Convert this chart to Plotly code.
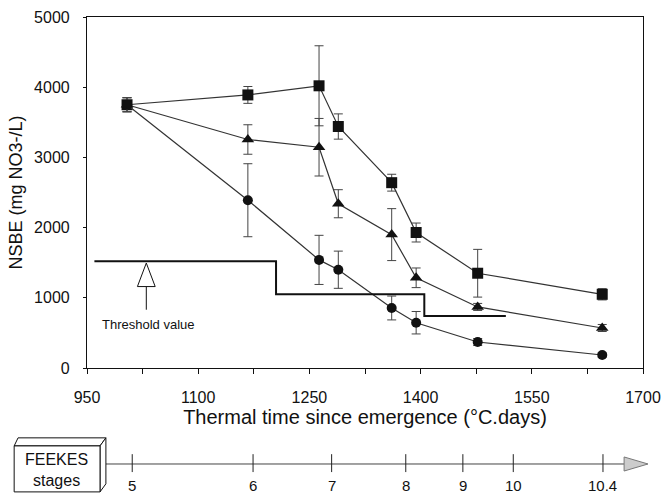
import plotly.graph_objects as go

# ---- data ----
thermal_time = [1004, 1167, 1263, 1289, 1361, 1394, 1477, 1645]
nsbe_square = [3750, 3890, 4020, 3440, 2640, 1930, 1350, 1050]
err_square = [100, 120, 570, 180, 120, 135, 340, 80]
nsbe_triangle = [3750, 3255, 3145, 2340, 1900, 1285, 870, 570]
err_triangle = [100, 210, 410, 200, 370, 140, 50, 50]
nsbe_circle = [3750, 2390, 1540, 1400, 855, 645, 370, 185]
err_circle = [100, 520, 350, 265, 170, 160, 50, 30]

threshold_tt = [960, 1205, 1405, 1515]
threshold_val = [1520, 1050, 740, 740]

feekes_labels = ["5", "6", "7", "8", "9", "10", "10.4"]
feekes_tt = [1011, 1174, 1280, 1380, 1457, 1525, 1646]

x_ticks = [950, 1100, 1250, 1400, 1550, 1700]
y_ticks = [0, 1000, 2000, 3000, 4000, 5000]

FONT = "Arial, Liberation Sans, sans-serif"
INK = "#111111"

fig = go.Figure()

def add_series(y, err, symbol, size):
    fig.add_trace(go.Scatter(
        x=thermal_time, y=y, mode="lines+markers",
        line=dict(color="#333333", width=1.2),
        marker=dict(symbol=symbol, size=size, color=INK),
        error_y=dict(type="data", array=err, visible=True,
                     color="#444444", thickness=1, width=4.5),
        showlegend=False, hoverinfo="skip"))

add_series(nsbe_square, err_square, "square", 11)
add_series(nsbe_triangle, err_triangle, "triangle-up", 11)
add_series(nsbe_circle, err_circle, "circle", 10)

fig.add_trace(go.Scatter(
    x=threshold_tt, y=threshold_val, mode="lines", line_shape="hv",
    line=dict(color=INK, width=2), showlegend=False, hoverinfo="skip"))

shapes = []
# hollow threshold arrow
ax = 1030
shapes.append(dict(type="path", xref="x", yref="y",
                   path=f"M {ax} 1495 L {ax-12} 1160 L {ax+12} 1160 Z",
                   line=dict(color=INK, width=1), fillcolor="white"))
shapes.append(dict(type="line", xref="x", yref="y", x0=ax, x1=ax, y0=1160, y1=830,
                   line=dict(color=INK, width=1)))

# FEEKES axis
ly = -0.2735
shapes.append(dict(type="line", xref="paper", yref="paper", x0=0.034, x1=0.966,
                   y0=ly, y1=ly, line=dict(color="#444444", width=1)))
for t in feekes_tt:
    shapes.append(dict(type="line", xref="x", yref="paper", x0=t, x1=t,
                       y0=ly - 0.023, y1=ly + 0.028, line=dict(color="#222222", width=1)))
# arrow head
shapes.append(dict(type="path", xref="paper", yref="paper",
                   path=f"M 0.966 {ly+0.02} L 1.009 {ly} L 0.966 {ly-0.02} Z",
                   line=dict(color="#777777", width=1), fillcolor="#cccccc"))
# 3D box
shapes.append(dict(type="path", xref="paper", yref="paper",
                   path="M -0.131 -0.222 L -0.124 -0.199 L 0.034 -0.199 L 0.0234 -0.222 Z",
                   line=dict(color=INK, width=1), fillcolor="white"))
shapes.append(dict(type="path", xref="paper", yref="paper",
                   path="M 0.0234 -0.222 L 0.034 -0.199 L 0.034 -0.33 L 0.0234 -0.353 Z",
                   line=dict(color=INK, width=1), fillcolor="white"))
shapes.append(dict(type="rect", xref="paper", yref="paper",
                   x0=-0.131, x1=0.0234, y0=-0.353, y1=-0.222,
                   line=dict(color=INK, width=1), fillcolor="white"))

annotations = [
    dict(x=967, y=614, xref="x", yref="y", text="Threshold value", showarrow=False,
         xanchor="left", yanchor="middle", font=dict(family=FONT, size=13, color=INK)),
    dict(x=-0.054, y=-0.29, xref="paper", yref="paper", text="FEEKES<br>stages",
         showarrow=False, xanchor="center", yanchor="middle",
         font=dict(family=FONT, size=16, color=INK)),
]
for lab, t in zip(feekes_labels, feekes_tt):
    annotations.append(dict(x=t, y=-0.3647, xref="x", yref="paper", text=lab,
                            showarrow=False, xanchor="center", yanchor="bottom",
                            font=dict(family=FONT, size=15, color=INK)))

fig.update_layout(
    width=662, height=496,
    margin=dict(l=87, r=19, t=17, b=128),
    paper_bgcolor="white", plot_bgcolor="white",
    font=dict(family=FONT, color=INK),
    shapes=shapes, annotations=annotations,
    xaxis=dict(range=[950, 1700], tickvals=x_ticks, showgrid=False, zeroline=False,
               automargin=False,
               showline=True, linecolor=INK, linewidth=1.2, mirror=True,
               ticks="outside", ticklen=5, tickcolor=INK, ticklabelstandoff=10,
               minor=dict(dtick=75, tick0=950, ticks="outside", ticklen=5, tickcolor=INK),
               tickfont=dict(family=FONT, size=16, color=INK),
               title=dict(text="Thermal time since emergence (°C.days)", standoff=4,
                          font=dict(family=FONT, size=20, color=INK))),
    yaxis=dict(range=[0, 5000], tickvals=y_ticks, showgrid=False, zeroline=False,
               automargin=False,
               showline=True, linecolor=INK, linewidth=1.2, mirror=True,
               ticks="outside", ticklen=3, tickcolor=INK, ticklabelstandoff=10,
               tickfont=dict(family=FONT, size=16, color=INK),
               title=dict(text="NSBE (mg NO3-/L)", standoff=6,
                          font=dict(family=FONT, size=18, color=INK))),
)

fig.write_html("out.html")
